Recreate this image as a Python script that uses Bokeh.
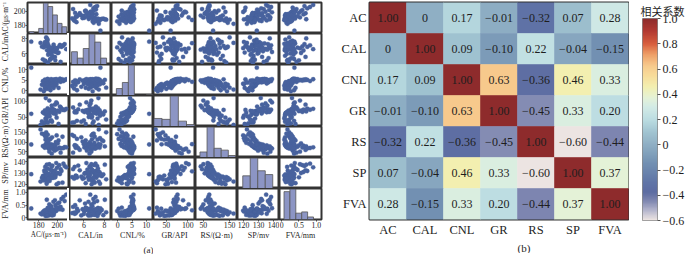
import numpy as np
from bokeh.plotting import figure
from bokeh.layouts import gridplot, row
from bokeh.models import (ColumnDataSource, Range1d, LinearAxis, FixedTicker,
                          CustomJSTickFormatter, LinearColorMapper, FactorRange, Title)
from bokeh.core.properties import value
from bokeh.embed import file_html
from bokeh.resources import INLINE

# ---------------- data ----------------
VARS = ["AC", "CAL", "CNL", "GR", "RS", "SP", "FVA"]
AXIS_LABELS = ["AC/(μs·m⁻¹)", "CAL/in", "CNL/%", "GR/API", "RS/(Ω·m)", "SP/mv", "FVA/mm"]

AC = [185.5, 192.6, 182, 189, 186.9, 196, 201.3, 188, 191, 194.3,
      186.3, 189.8, 198.3, 187.3, 192, 183.5, 195.3, 188.5, 193.6, 190.5,
      199.2, 187, 189.4, 197, 191.7, 186, 194.6, 188.8, 193, 203.5,
      187.6, 190.8, 196.5, 189.2, 199.6, 184.5, 206.5, 192.3, 188.2, 194.9,
      190.2, 202, 194, 197.8, 207.8, 191.4, 200.5, 188.7, 204.4, 195.7,
      186.7, 197.4, 205.5, 209.5, 193.3, 198.8, 189.6, 202.8, 172]
CAL = [6.86, 5.33, 7.46, 6.48, 5.05, 7.22, 6.18, 8.18, 6.7, 5.75,
       7.04, 4.85, 6.6, 7.34, 5.2, 6.96, 6.4, 7.58, 6.0, 7.1,
       6.76, 5.1, 7.9, 6.3, 6.8, 7.26, 5.45, 7.02, 6.53, 4.95,
       7.42, 6.05, 6.9, 7.75, 6.66, 5.28, 7.14, 6.35, 7.5, 6.78,
       5.88, 7.0, 6.56, 5.15, 7.3, 6.73, 6.12, 8.05, 6.93, 6.45,
       7.54, 5.6, 7.06, 6.63, 6.83, 6.25, 7.38, 7.18, 7.62]
CNL = [-0.2, 0.3, 0.6, 0.9, 1.1, 1.3, 1.4, 1.5, 1.7, 1.9,
       2.1, 2.3, 2.5, 2.6, 2.8, 2.9, 3.0, 3.1, 3.2, 3.3,
       3.4, 3.5, 3.6, 3.8, 3.9, 4.0, 4.05, 4.1, 4.2, 4.25,
       4.3, 4.4, 4.45, 4.5, 4.55, 4.6, 4.65, 4.7, 4.75, 4.8,
       4.85, 4.9, 4.95, 5.0, 5.05, 5.1, 5.15, 5.2, 5.25, 5.3,
       5.35, 5.4, 5.45, 5.5, 5.55, 5.6, 5.7, 5.75, 11.0]
GR = [30, 38, 25, 50, 33, 61.5, 28, 42, 56, 35,
      64, 32, 59.5, 45, 66.5, 36, 62.5, 54, 39, 69,
      48, 65, 58, 71.5, 52, 61, 74, 63, 68, 80,
      110, 65.5, 70.5, 62, 93, 64.5, 73, 67, 63.5, 75,
      69.5, 66, 86, 68.5, 72, 102, 70, 67.5, 76.5, 73.5,
      71, 89, 72.5, 76, 74.5, 96, 77.5, 83, 60]
RS = [140, 116, 165, 90, 130, 80, 108, 150, 85, 124,
      73, 137, 99, 112, 70, 143, 76.5, 120, 88, 66.5,
      134, 82, 105, 55, 114, 78, 68, 96, 74.5, 45,
      89, 72, 84, 110, 62, 79, 69, 86, 76, 65,
      102, 71, 40, 83, 74, 50, 93, 77, 67, 81,
      70.5, 59, 127, 72.5, 75, 66, 78.5, 68.5, 87]
SP = [123.3, 125.9, 122.3, 123.8, 124.9, 125.7, 120.8, 124.3, 125.1, 126.7,
      126.9, 126.3, 128.1, 127.7, 127.5, 125.5, 126.5, 120.3, 125.3, 128.3,
      119.8, 135.5, 128.7, 129.7, 122.8, 132.1, 136.7, 121.8, 128.5, 133.5,
      131.5, 129.3, 130.3, 127.1, 134.7, 127.3, 138.4, 133.0, 127.9, 131.2,
      124.7, 137.1, 135.9, 126.1, 136.3, 137.9, 130.0, 137.5, 131.8, 130.9,
      130.6, 132.4, 121.3, 135.1, 132.7, 139.0, 134.0, 129.1, 128.9]
FVA = [0.27, 0.36, 0.17, 0.09, 0.21, 0.12, 0.40, 0.22, 0.10, 0.10,
       0.15, 0.19, 0.27, 0.08, 0.18, 0.14, 0.13, 0.25, 0.15, 0.22,
       0.29, 0.16, 0.11, 0.32, 0.28, 0.18, 0.28, 0.12, 0.20, 0.43,
       0.30, 0.26, 0.20, 0.31, 0.35, 0.23, 0.82, 0.33, 0.26, 0.29,
       0.34, 0.60, 0.36, 0.50, 0.66, 0.53, 0.56, 0.71, 0.74, 0.63,
       0.30, 0.69, 0.32, 0.91, 0.46, 0.38, 0.39, 0.34, 0.37]

# axis ranges and ticks
RANGES = {"AC": (168, 213), "CAL": (4.6, 8.7), "CNL": (-2.2, 12.5), "GR": (20, 118),
          "RS": (20, 180), "SP": (116, 144), "FVA": (-0.06, 1.15)}
X_TICKS = {"AC": [180, 200], "CAL": [6, 8], "CNL": [0, 5, 10], "GR": [50, 100],
           "RS": [50, 150], "SP": [120, 130, 140], "FVA": [0, 0.5, 1.0]}
Y_TICKS = {"AC": [180, 200], "CAL": [6, 8], "CNL": [0, 5, 10], "GR": [50, 100],
           "RS": [50, 100, 150], "SP": [120, 130, 140], "FVA": [0, 0.5, 1.0]}
HIST_EDGES = {"AC": [170, 175, 180, 185, 190, 195, 200, 205, 210],
              "CAL": [4.8, 5.37, 5.94, 6.51, 7.08, 7.65, 8.22],
              "CNL": [-0.5, 1.6, 3.7, 5.8, 7.9, 10.0, 12.1],
              "GR": [21, 40, 59, 78, 97, 116],
              "RS": [37, 64, 91, 118, 145, 172],
              "SP": [119.5, 124.5, 129.5, 134.5, 139.5],
              "FVA": [0.07, 0.24, 0.41, 0.58, 0.75, 0.92]}

CORR = [[1.00, 0, 0.17, -0.01, -0.32, 0.07, 0.28],
        [0, 1.00, 0.09, -0.10, 0.22, -0.04, -0.15],
        [0.17, 0.09, 1.00, 0.63, -0.36, 0.46, 0.33],
        [-0.01, -0.10, 0.63, 1.00, -0.45, 0.33, 0.20],
        [-0.32, 0.22, -0.36, -0.45, 1.00, -0.60, -0.44],
        [0.07, -0.04, 0.46, 0.33, -0.60, 1.00, 0.37],
        [0.28, -0.15, 0.33, 0.20, -0.44, 0.37, 1.00]]
CB_LOW, CB_HIGH = -0.6, 1.0
CB_TICKS = [-0.6, -0.4, -0.2, 0, 0.2, 0.4, 0.6, 0.8, 1.0]
CB_TITLE = "相关系数"
PANEL_TAGS = ["(a)", "(b)"]

# ---------------- style ----------------
SERIF = "Liberation Serif"
CJK = "Noto Sans CJK SC"
INK = "#1e1e1e"
DOT = "#48629e"
BAR = "#8c95c4"
FRAME = "#333333"
ROW_TITLE_FS = ["7.4px", "8px", "8px", "8px", "8px", "8px", "8px"]
COL_TITLE_FS = {"AC": "7.2px"}
TICK_FS = "7.8px"
LABEL_FS = "8px"
PW, PH = 42, 31          # scatter panel frame size
TOP, BOTTOM = 2, 30      # outer borders (page height 249 inside the 8px margin)

STOP_V = [-0.60, -0.52, -0.45, -0.38, -0.30, -0.15, 0.0, 0.10, 0.20, 0.30,
          0.37, 0.46, 0.55, 0.63, 0.72, 0.80, 0.90, 1.00]
STOP_C = ["#ece4e2", "#b3b4cc", "#8088b1", "#5d6ca2", "#6075a7", "#7290b2",
          "#8fafc4", "#a1c4d1", "#bcdde2", "#d3ebe6", "#e4f2d8", "#f3efb0",
          "#f8dc9a", "#f7c98c", "#ee9e66", "#d85e3e", "#b33a32", "#8e2b2c"]


def _rgb(h):
    return [int(h[k:k + 2], 16) for k in (1, 3, 5)]


_grid = np.linspace(CB_LOW, CB_HIGH, 256)
_rgbs = np.array([_rgb(c) for c in STOP_C], dtype=float)
PALETTE = ["#%02x%02x%02x" % tuple(int(round(np.interp(g, STOP_V, _rgbs[:, k]))) for k in range(3))
           for g in _grid]

FVA_FMT = "return Math.abs(tick) < 1e-9 ? '0' : tick.toFixed(1);"
CB_FMT = "if (Math.abs(tick) < 1e-9) { return '0'; } return tick.toFixed(1).replace('-', '\u2212');"

samples = {"AC": AC, "CAL": CAL, "CNL": CNL, "GR": GR, "RS": RS, "SP": SP, "FVA": FVA}
src = ColumnDataSource(samples)


def style_axis(ax, var, label, ticks):
    ax.axis_label = label
    ax.ticker = FixedTicker(ticks=ticks)
    if var == "FVA":
        ax.formatter = CustomJSTickFormatter(code=FVA_FMT)
    ax.axis_label_text_font = SERIF
    ax.axis_label_text_font_size = COL_TITLE_FS.get(var, LABEL_FS)
    ax.axis_label_text_font_style = "normal"
    ax.axis_label_text_color = INK
    ax.major_label_text_font = SERIF
    ax.major_label_text_font_size = TICK_FS
    ax.major_label_text_color = INK
    ax.axis_line_color = None
    ax.major_tick_out = 2
    ax.major_tick_in = 0
    ax.minor_tick_out = 0
    ax.minor_tick_in = 0
    ax.major_tick_line_color = "#444444"
    ax.major_label_standoff = 0
    ax.axis_label_standoff = 0


def boxed(p):
    # wrap a single plot so the row does not re-align its frame with its neighbours
    return gridplot([[p]], toolbar_location=None)


# ---------- rotated row titles (one tall strip so long titles are not cut) ----------
lab = figure(x_range=Range1d(0, 1), y_range=FactorRange(*VARS[::-1]),
             frame_width=10, frame_height=7 * PH,
             min_border_left=0, min_border_right=0, min_border_top=TOP, min_border_bottom=BOTTOM,
             output_backend="svg", toolbar_location=None, title=None,
             x_axis_location=None, y_axis_location=None)
lab.outline_line_color = None
lab.grid.visible = False
lab.text(x=[0.5] * len(VARS), y=VARS, text=AXIS_LABELS, angle=np.pi / 2,
         text_font=value(SERIF), text_font_size=ROW_TITLE_FS, text_color=INK,
         text_align="center", text_baseline="middle")

# ---------------- scatter matrix ----------------
n = len(VARS)
rows = []
for i, yv in enumerate(VARS):
    figs = []
    for j, xv in enumerate(VARS):
        first_col, last_row, diag = j == 0, i == n - 1, i == j
        if diag:
            counts, _ = np.histogram(samples[xv], bins=HIST_EDGES[xv])
            yr = Range1d(0, counts.max() * 1.02)
        else:
            yr = Range1d(*RANGES[yv])
        p = figure(frame_width=PW, frame_height=PH,
                   x_range=Range1d(*RANGES[xv]), y_range=yr,
                   output_backend="svg", toolbar_location=None, title=None,
                   x_axis_location="below" if last_row else None,
                   y_axis_location="left" if (first_col and not diag) else None,
                   min_border_left=15 if first_col else 0,
                   min_border_right=4 if j == n - 1 else 0,
                   min_border_top=TOP if i == 0 else 0,
                   min_border_bottom=BOTTOM if last_row else 0)
        p.grid.visible = False
        p.outline_line_color = FRAME
        p.outline_line_width = 2
        if diag:
            edges = HIST_EDGES[xv]
            p.quad(left=edges[:-1], right=edges[1:], bottom=0, top=counts,
                   fill_color=BAR, line_color="#555555", line_width=0.8)
            if first_col:
                p.extra_y_ranges = {"v": Range1d(*RANGES[yv])}
                p.add_layout(LinearAxis(y_range_name="v"), "left")
        else:
            p.scatter(x=xv, y=yv, source=src, size=4.3, fill_color=DOT,
                      line_color=DOT, line_width=0.3)
        for ax in p.left:
            style_axis(ax, yv, None, Y_TICKS[yv])
        for ax in p.below:
            style_axis(ax, xv, AXIS_LABELS[j], X_TICKS[xv])
        if last_row and j == 2:
            p.add_layout(Title(text=PANEL_TAGS[0], align="right", standoff=0,
                               text_font=SERIF, text_font_size="9px",
                               text_font_style="normal", text_color=INK), "below")
        figs.append(p)
    rows.append(figs)

grid = gridplot(rows, toolbar_location=None)

# ---------------- heatmap ----------------
hx, hy, hv, ht = [], [], [], []
for r, rv in enumerate(VARS):
    for c, cv in enumerate(VARS):
        v = CORR[r][c]
        hx.append(cv)
        hy.append(rv)
        hv.append(v)
        ht.append("0" if v == 0 else ("%.2f" % v).replace("-", "\u2212"))
hsrc = ColumnDataSource(dict(x=hx, y=hy, v=hv, t=ht))

mapper = LinearColorMapper(palette=PALETTE, low=CB_LOW, high=CB_HIGH)

hm = figure(x_range=FactorRange(*VARS), y_range=FactorRange(*VARS[::-1]),
            frame_width=259, frame_height=7 * PH,
            min_border_left=44, min_border_right=1, min_border_top=TOP, min_border_bottom=BOTTOM,
            output_backend="svg", toolbar_location=None, title=None)
hm.rect(x="x", y="y", width=1, height=1, source=hsrc,
        fill_color={"field": "v", "transform": mapper},
        line_color={"field": "v", "transform": mapper}, line_width=0.6)
hm.text(x="x", y="y", text="t", source=hsrc, text_font=value(SERIF),
        text_font_size="12px", text_align="center", text_baseline="middle",
        text_color=INK)
hm.grid.visible = False
hm.outline_line_color = FRAME
hm.outline_line_width = 2
for ax in hm.axis:
    ax.axis_line_color = None
    ax.major_tick_line_color = None
    ax.minor_tick_line_color = None
    ax.major_tick_out = 0
    ax.major_tick_in = 0
    ax.minor_tick_out = 0
    ax.minor_tick_in = 0
    ax.axis_label_standoff = 0
    ax.major_label_text_font = SERIF
    ax.major_label_text_font_size = "12.5px"
    ax.major_label_text_color = INK
    ax.major_label_standoff = 3
hm.add_layout(Title(text=PANEL_TAGS[1], align="left", offset=148, standoff=0,
                    text_font=SERIF, text_font_size="11px",
                    text_font_style="normal", text_color=INK), "below")

# ---------------- colour bar (own small plot, same mapper) ----------------
cbf = figure(x_range=Range1d(0, 1), y_range=Range1d(CB_LOW, CB_HIGH),
             frame_width=15, frame_height=202,
             min_border_left=13, min_border_right=29, min_border_top=17, min_border_bottom=BOTTOM,
             output_backend="svg", toolbar_location=None, title=CB_TITLE,
             x_axis_location=None, y_axis_location="right")
cbf.image(image=[np.linspace(CB_LOW, CB_HIGH, 256).reshape(-1, 1)],
          x=0, y=CB_LOW, dw=1, dh=CB_HIGH - CB_LOW, color_mapper=mapper)
cbf.grid.visible = False
cbf.outline_line_color = "#8a8a8a"
cbf.outline_line_width = 1
cbf.title.text_font = CJK
cbf.title.text_font_size = "11px"
cbf.title.text_font_style = "normal"
cbf.title.text_color = INK
cbf.title.align = "left"
cbf.title.offset = -2
cbf.title.standoff = 0
cax = cbf.yaxis[0]
cax.ticker = FixedTicker(ticks=CB_TICKS)
cax.formatter = CustomJSTickFormatter(code=CB_FMT)
cax.axis_line_color = None
cax.major_tick_out = 3
cax.major_tick_in = 0
cax.minor_tick_out = 0
cax.minor_tick_in = 0
cax.axis_label_standoff = 0
cax.major_tick_line_color = "#555555"
cax.major_label_text_font = SERIF
cax.major_label_text_font_size = "12px"
cax.major_label_text_color = INK
cax.major_label_standoff = 2

root = row(boxed(lab), grid, boxed(hm), boxed(cbf))

open("out.html", "w").write(file_html(root, INLINE))
